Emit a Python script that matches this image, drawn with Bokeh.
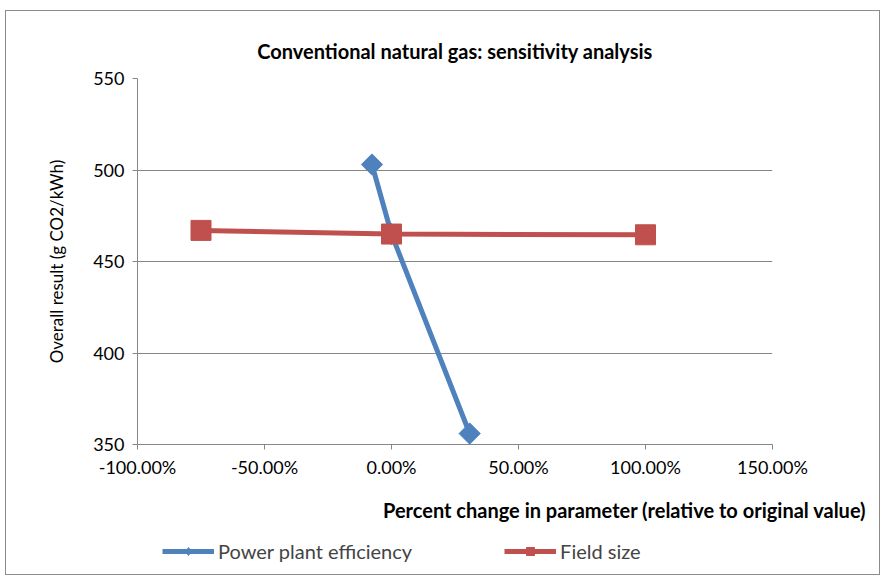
import math
from bokeh.plotting import figure
from bokeh.layouts import column
from bokeh.models import (Range1d, FixedTicker, NumeralTickFormatter, Title, Legend, LegendItem)
from bokeh.embed import file_html
from bokeh.resources import INLINE

# Data
eff_x = [-0.0769, 0.0, 0.3077]
eff_y = [503.0, 465.0, 356.0]
field_x = [-0.75, 0.0, 1.0]
field_y = [467.0, 465.0, 464.6]
x_ticks = [-1.0, -0.5, 0.0, 0.5, 1.0, 1.5]
y_ticks = [350, 400, 450, 500, 550]
series_names = ["Power plant efficiency", "Field size"]

FONT = "Lato"
BLUE = "#4F81BD"
RED = "#C0504D"
GRID = "#868686"

W, H = 873, 526
p = figure(width=W, height=H, output_backend="svg", toolbar_location=None,
           x_range=Range1d(-1.0, 1.5), y_range=Range1d(350, 550))
p.min_border_left = 131
p.min_border_right = 107
p.min_border_top = 67
p.min_border_bottom = 93
p.outline_line_color = None

p.xgrid.grid_line_color = None
p.ygrid.grid_line_color = GRID
p.ygrid.grid_line_width = 1
p.ygrid.ticker = FixedTicker(ticks=y_ticks)

p.xaxis.ticker = FixedTicker(ticks=x_ticks)
p.xaxis.formatter = NumeralTickFormatter(format="0.00%")
p.yaxis.ticker = FixedTicker(ticks=y_ticks)
for ax in (p.xaxis, p.yaxis):
    ax.axis_line_color = GRID
    ax.major_tick_line_color = GRID
    ax.major_tick_out = 5
    ax.major_tick_in = 0
    ax.minor_tick_line_color = None
    ax.major_label_text_font = FONT
    ax.major_label_text_font_size = "18px"
    ax.major_label_text_color = "#000000"
p.xaxis.major_label_standoff = 6
p.yaxis.major_label_standoff = 8

p.yaxis.axis_label = "Overall result (g CO2/kWh)"
p.yaxis.axis_label_text_font = FONT
p.yaxis.axis_label_text_font_style = "normal"
p.yaxis.axis_label_text_font_size = "17px"
p.yaxis.axis_label_text_color = "#000000"
p.yaxis.axis_label_standoff = 23

# Series
r1 = p.line(eff_x, eff_y, line_color=BLUE, line_width=5)
m1 = p.scatter(eff_x, eff_y, marker="square", angle=math.pi / 4, size=15,
               fill_color=BLUE, line_color=BLUE)
r2 = p.line(field_x, field_y, line_color=RED, line_width=5)
m2 = p.scatter(field_x, field_y, marker="square", size=20, fill_color=RED, line_color=RED)

# Title
p.title = Title(text="Conventional natural gas: sensitivity analysis", text_font=FONT,
                text_font_style="bold", text_font_size="20px", align="center",
                text_color="#000000", standoff=31)

xlab = Title(text="Percent change in parameter (relative to original value)", text_font=FONT,
             text_font_style="bold", text_font_size="20px", align="right",
             text_color="#000000", offset=-94, standoff=31)
p.add_layout(xlab, "below")

# Legend strip (separate figure below the chart; data kept out of its view)
q = figure(width=W, height=37, output_backend="svg", toolbar_location=None,
           x_range=Range1d(10, 11), y_range=Range1d(10000, 10001),
           x_axis_type=None, y_axis_type=None)
q.min_border_left = 0
q.min_border_right = 0
q.min_border_top = 0
q.min_border_bottom = 0
q.outline_line_color = None
q.grid.grid_line_color = None
l1 = q.line(eff_x, eff_y, line_color=BLUE, line_width=5)
k1 = q.scatter(eff_x, eff_y, marker="diamond", size=16,
               fill_color=BLUE, line_color=BLUE)
l2 = q.line(field_x, field_y, line_color=RED, line_width=5)
k2 = q.scatter(field_x, field_y, marker="square", size=20, fill_color=RED, line_color=RED)

legend = Legend(items=[LegendItem(label=series_names[0], renderers=[l1, k1]),
                       LegendItem(label=series_names[1], renderers=[l2, k2])],
                orientation="horizontal", location=(25, 11),
                glyph_width=52, glyph_height=20, label_standoff=4, spacing=92,
                label_text_font=FONT, label_text_font_size="20px",
                border_line_color=None, background_fill_alpha=0,
                padding=0, margin=0)
q.add_layout(legend, "center")

layout = column(p, q, spacing=0)
layout.styles = {"border": "1px solid #8c8c8c", "margin-left": "5px", "margin-top": "10px"}

open("out.html", "w").write(file_html(layout, INLINE))
